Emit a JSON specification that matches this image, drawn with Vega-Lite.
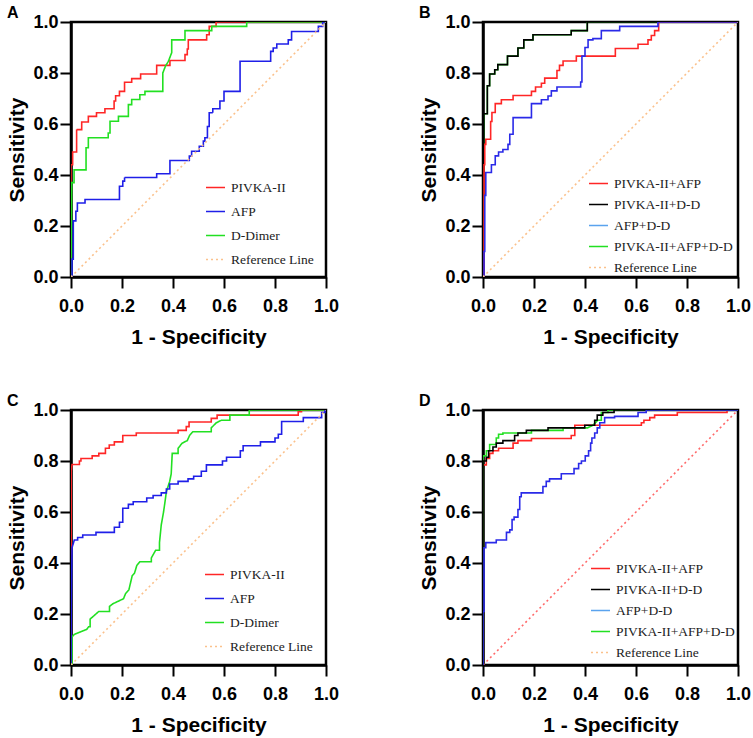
{
"$schema": "https://vega.github.io/schema/vega-lite/v6.json",
"background": "white",
"padding": {"left": 5, "top": 3, "right": 5, "bottom": 5},
"datasets": {
"A": [
{"s":"PIVKA-II","x":0,"y":0},{"s":"PIVKA-II","x":0,"y":0.44},{"s":"PIVKA-II","x":0.0065,"y":0.44},{"s":"PIVKA-II","x":0.0065,"y":0.49},{"s":"PIVKA-II","x":0.022,"y":0.49},{"s":"PIVKA-II","x":0.022,"y":0.578},{"s":"PIVKA-II","x":0.042,"y":0.578},{"s":"PIVKA-II","x":0.042,"y":0.608},{"s":"PIVKA-II","x":0.068,"y":0.608},{"s":"PIVKA-II","x":0.068,"y":0.63},{"s":"PIVKA-II","x":0.1,"y":0.63},{"s":"PIVKA-II","x":0.1,"y":0.644},{"s":"PIVKA-II","x":0.133,"y":0.644},{"s":"PIVKA-II","x":0.133,"y":0.66},{"s":"PIVKA-II","x":0.169,"y":0.66},{"s":"PIVKA-II","x":0.169,"y":0.69},{"s":"PIVKA-II","x":0.175,"y":0.69},{"s":"PIVKA-II","x":0.175,"y":0.711},{"s":"PIVKA-II","x":0.19,"y":0.711},{"s":"PIVKA-II","x":0.19,"y":0.728},{"s":"PIVKA-II","x":0.21,"y":0.728},{"s":"PIVKA-II","x":0.21,"y":0.764},{"s":"PIVKA-II","x":0.238,"y":0.764},{"s":"PIVKA-II","x":0.238,"y":0.778},{"s":"PIVKA-II","x":0.273,"y":0.778},{"s":"PIVKA-II","x":0.273,"y":0.796},{"s":"PIVKA-II","x":0.336,"y":0.796},{"s":"PIVKA-II","x":0.336,"y":0.83},{"s":"PIVKA-II","x":0.388,"y":0.83},{"s":"PIVKA-II","x":0.388,"y":0.849},{"s":"PIVKA-II","x":0.447,"y":0.849},{"s":"PIVKA-II","x":0.447,"y":0.872},{"s":"PIVKA-II","x":0.456,"y":0.872},{"s":"PIVKA-II","x":0.456,"y":0.894},{"s":"PIVKA-II","x":0.46,"y":0.894},{"s":"PIVKA-II","x":0.46,"y":0.93},{"s":"PIVKA-II","x":0.532,"y":0.93},{"s":"PIVKA-II","x":0.532,"y":0.95},{"s":"PIVKA-II","x":0.542,"y":0.95},{"s":"PIVKA-II","x":0.542,"y":0.983},{"s":"PIVKA-II","x":0.569,"y":0.983},{"s":"PIVKA-II","x":0.569,"y":1},{"s":"PIVKA-II","x":1,"y":1},
{"s":"D-Dimer","x":0,"y":0},{"s":"D-Dimer","x":0.003,"y":0.37},{"s":"D-Dimer","x":0.012,"y":0.37},{"s":"D-Dimer","x":0.012,"y":0.42},{"s":"D-Dimer","x":0.059,"y":0.42},{"s":"D-Dimer","x":0.059,"y":0.507},{"s":"D-Dimer","x":0.068,"y":0.507},{"s":"D-Dimer","x":0.068,"y":0.546},{"s":"D-Dimer","x":0.146,"y":0.546},{"s":"D-Dimer","x":0.146,"y":0.565},{"s":"D-Dimer","x":0.153,"y":0.565},{"s":"D-Dimer","x":0.153,"y":0.611},{"s":"D-Dimer","x":0.186,"y":0.611},{"s":"D-Dimer","x":0.186,"y":0.63},{"s":"D-Dimer","x":0.225,"y":0.63},{"s":"D-Dimer","x":0.225,"y":0.676},{"s":"D-Dimer","x":0.238,"y":0.676},{"s":"D-Dimer","x":0.238,"y":0.696},{"s":"D-Dimer","x":0.27,"y":0.696},{"s":"D-Dimer","x":0.27,"y":0.715},{"s":"D-Dimer","x":0.29,"y":0.715},{"s":"D-Dimer","x":0.29,"y":0.728},{"s":"D-Dimer","x":0.36,"y":0.728},{"s":"D-Dimer","x":0.36,"y":0.8},{"s":"D-Dimer","x":0.37,"y":0.826},{"s":"D-Dimer","x":0.382,"y":0.846},{"s":"D-Dimer","x":0.395,"y":0.88},{"s":"D-Dimer","x":0.395,"y":0.93},{"s":"D-Dimer","x":0.447,"y":0.93},{"s":"D-Dimer","x":0.447,"y":0.966},{"s":"D-Dimer","x":0.552,"y":0.966},{"s":"D-Dimer","x":0.552,"y":0.983},{"s":"D-Dimer","x":0.689,"y":0.983},{"s":"D-Dimer","x":0.689,"y":1},{"s":"D-Dimer","x":1,"y":1},
{"s":"AFP","x":0,"y":0},{"s":"AFP","x":0.004,"y":0},{"s":"AFP","x":0.004,"y":0.07},{"s":"AFP","x":0.009,"y":0.07},{"s":"AFP","x":0.009,"y":0.22},{"s":"AFP","x":0.019,"y":0.22},{"s":"AFP","x":0.019,"y":0.258},{"s":"AFP","x":0.025,"y":0.258},{"s":"AFP","x":0.025,"y":0.29},{"s":"AFP","x":0.055,"y":0.29},{"s":"AFP","x":0.055,"y":0.304},{"s":"AFP","x":0.19,"y":0.304},{"s":"AFP","x":0.19,"y":0.356},{"s":"AFP","x":0.203,"y":0.356},{"s":"AFP","x":0.203,"y":0.376},{"s":"AFP","x":0.21,"y":0.376},{"s":"AFP","x":0.21,"y":0.39},{"s":"AFP","x":0.336,"y":0.39},{"s":"AFP","x":0.336,"y":0.405},{"s":"AFP","x":0.388,"y":0.405},{"s":"AFP","x":0.388,"y":0.457},{"s":"AFP","x":0.464,"y":0.457},{"s":"AFP","x":0.464,"y":0.474},{"s":"AFP","x":0.473,"y":0.474},{"s":"AFP","x":0.473,"y":0.493},{"s":"AFP","x":0.503,"y":0.493},{"s":"AFP","x":0.503,"y":0.513},{"s":"AFP","x":0.519,"y":0.513},{"s":"AFP","x":0.519,"y":0.533},{"s":"AFP","x":0.525,"y":0.533},{"s":"AFP","x":0.525,"y":0.546},{"s":"AFP","x":0.535,"y":0.546},{"s":"AFP","x":0.535,"y":0.59},{"s":"AFP","x":0.542,"y":0.59},{"s":"AFP","x":0.542,"y":0.644},{"s":"AFP","x":0.556,"y":0.644},{"s":"AFP","x":0.556,"y":0.66},{"s":"AFP","x":0.584,"y":0.66},{"s":"AFP","x":0.584,"y":0.69},{"s":"AFP","x":0.6,"y":0.69},{"s":"AFP","x":0.6,"y":0.728},{"s":"AFP","x":0.663,"y":0.728},{"s":"AFP","x":0.663,"y":0.846},{"s":"AFP","x":0.783,"y":0.846},{"s":"AFP","x":0.783,"y":0.885},{"s":"AFP","x":0.793,"y":0.885},{"s":"AFP","x":0.793,"y":0.898},{"s":"AFP","x":0.807,"y":0.898},{"s":"AFP","x":0.807,"y":0.914},{"s":"AFP","x":0.852,"y":0.914},{"s":"AFP","x":0.852,"y":0.93},{"s":"AFP","x":0.865,"y":0.93},{"s":"AFP","x":0.865,"y":0.963},{"s":"AFP","x":0.97,"y":0.963},{"s":"AFP","x":0.97,"y":0.983},{"s":"AFP","x":0.987,"y":0.983},{"s":"AFP","x":0.987,"y":1},{"s":"AFP","x":1,"y":1},
{"s":"Reference Line","x":0,"y":0},{"s":"Reference Line","x":1,"y":1}
],
"B": [
{"s":"PIVKA-II+AFP+D-D","x":0,"y":0},{"s":"PIVKA-II+AFP+D-D","x":0,"y":0.32},{"s":"PIVKA-II+AFP+D-D","x":0.003,"y":0.32},{"s":"PIVKA-II+AFP+D-D","x":0.003,"y":0.64},{"s":"PIVKA-II+AFP+D-D","x":0.017,"y":0.64},{"s":"PIVKA-II+AFP+D-D","x":0.017,"y":0.75},{"s":"PIVKA-II+AFP+D-D","x":0.026,"y":0.75},{"s":"PIVKA-II+AFP+D-D","x":0.026,"y":0.796},{"s":"PIVKA-II+AFP+D-D","x":0.046,"y":0.796},{"s":"PIVKA-II+AFP+D-D","x":0.046,"y":0.813},{"s":"PIVKA-II+AFP+D-D","x":0.058,"y":0.813},{"s":"PIVKA-II+AFP+D-D","x":0.058,"y":0.833},{"s":"PIVKA-II+AFP+D-D","x":0.096,"y":0.833},{"s":"PIVKA-II+AFP+D-D","x":0.096,"y":0.866},{"s":"PIVKA-II+AFP+D-D","x":0.137,"y":0.866},{"s":"PIVKA-II+AFP+D-D","x":0.137,"y":0.898},{"s":"PIVKA-II+AFP+D-D","x":0.16,"y":0.898},{"s":"PIVKA-II+AFP+D-D","x":0.16,"y":0.93},{"s":"PIVKA-II+AFP+D-D","x":0.196,"y":0.93},{"s":"PIVKA-II+AFP+D-D","x":0.196,"y":0.95},{"s":"PIVKA-II+AFP+D-D","x":0.346,"y":0.95},{"s":"PIVKA-II+AFP+D-D","x":0.346,"y":0.966},{"s":"PIVKA-II+AFP+D-D","x":0.409,"y":0.966},{"s":"PIVKA-II+AFP+D-D","x":0.409,"y":1},{"s":"PIVKA-II+AFP+D-D","x":1,"y":1},
{"s":"PIVKA-II+D-D","x":0,"y":0},{"s":"PIVKA-II+D-D","x":0,"y":0.32},{"s":"PIVKA-II+D-D","x":0.003,"y":0.32},{"s":"PIVKA-II+D-D","x":0.003,"y":0.64},{"s":"PIVKA-II+D-D","x":0.017,"y":0.64},{"s":"PIVKA-II+D-D","x":0.017,"y":0.75},{"s":"PIVKA-II+D-D","x":0.026,"y":0.75},{"s":"PIVKA-II+D-D","x":0.026,"y":0.796},{"s":"PIVKA-II+D-D","x":0.046,"y":0.796},{"s":"PIVKA-II+D-D","x":0.046,"y":0.813},{"s":"PIVKA-II+D-D","x":0.058,"y":0.813},{"s":"PIVKA-II+D-D","x":0.058,"y":0.833},{"s":"PIVKA-II+D-D","x":0.096,"y":0.833},{"s":"PIVKA-II+D-D","x":0.096,"y":0.866},{"s":"PIVKA-II+D-D","x":0.137,"y":0.866},{"s":"PIVKA-II+D-D","x":0.137,"y":0.898},{"s":"PIVKA-II+D-D","x":0.16,"y":0.898},{"s":"PIVKA-II+D-D","x":0.16,"y":0.93},{"s":"PIVKA-II+D-D","x":0.196,"y":0.93},{"s":"PIVKA-II+D-D","x":0.196,"y":0.95},{"s":"PIVKA-II+D-D","x":0.346,"y":0.95},{"s":"PIVKA-II+D-D","x":0.346,"y":0.966},{"s":"PIVKA-II+D-D","x":0.409,"y":0.966},{"s":"PIVKA-II+D-D","x":0.409,"y":1},{"s":"PIVKA-II+D-D","x":1,"y":1},
{"s":"PIVKA-II+AFP","x":0,"y":0},{"s":"PIVKA-II+AFP","x":0.004,"y":0},{"s":"PIVKA-II+AFP","x":0.004,"y":0.44},{"s":"PIVKA-II+AFP","x":0.007,"y":0.44},{"s":"PIVKA-II+AFP","x":0.007,"y":0.52},{"s":"PIVKA-II+AFP","x":0.011,"y":0.52},{"s":"PIVKA-II+AFP","x":0.011,"y":0.54},{"s":"PIVKA-II+AFP","x":0.03,"y":0.54},{"s":"PIVKA-II+AFP","x":0.03,"y":0.61},{"s":"PIVKA-II+AFP","x":0.035,"y":0.61},{"s":"PIVKA-II+AFP","x":0.035,"y":0.645},{"s":"PIVKA-II+AFP","x":0.048,"y":0.645},{"s":"PIVKA-II+AFP","x":0.048,"y":0.68},{"s":"PIVKA-II+AFP","x":0.072,"y":0.68},{"s":"PIVKA-II+AFP","x":0.072,"y":0.695},{"s":"PIVKA-II+AFP","x":0.118,"y":0.695},{"s":"PIVKA-II+AFP","x":0.118,"y":0.712},{"s":"PIVKA-II+AFP","x":0.19,"y":0.712},{"s":"PIVKA-II+AFP","x":0.19,"y":0.728},{"s":"PIVKA-II+AFP","x":0.206,"y":0.728},{"s":"PIVKA-II+AFP","x":0.206,"y":0.745},{"s":"PIVKA-II+AFP","x":0.229,"y":0.745},{"s":"PIVKA-II+AFP","x":0.229,"y":0.76},{"s":"PIVKA-II+AFP","x":0.242,"y":0.76},{"s":"PIVKA-II+AFP","x":0.242,"y":0.78},{"s":"PIVKA-II+AFP","x":0.29,"y":0.78},{"s":"PIVKA-II+AFP","x":0.29,"y":0.81},{"s":"PIVKA-II+AFP","x":0.3,"y":0.81},{"s":"PIVKA-II+AFP","x":0.3,"y":0.83},{"s":"PIVKA-II+AFP","x":0.314,"y":0.83},{"s":"PIVKA-II+AFP","x":0.314,"y":0.847},{"s":"PIVKA-II+AFP","x":0.366,"y":0.847},{"s":"PIVKA-II+AFP","x":0.366,"y":0.866},{"s":"PIVKA-II+AFP","x":0.519,"y":0.866},{"s":"PIVKA-II+AFP","x":0.519,"y":0.896},{"s":"PIVKA-II+AFP","x":0.608,"y":0.896},{"s":"PIVKA-II+AFP","x":0.608,"y":0.913},{"s":"PIVKA-II+AFP","x":0.647,"y":0.913},{"s":"PIVKA-II+AFP","x":0.647,"y":0.93},{"s":"PIVKA-II+AFP","x":0.66,"y":0.93},{"s":"PIVKA-II+AFP","x":0.66,"y":0.947},{"s":"PIVKA-II+AFP","x":0.673,"y":0.947},{"s":"PIVKA-II+AFP","x":0.673,"y":0.966},{"s":"PIVKA-II+AFP","x":0.689,"y":0.966},{"s":"PIVKA-II+AFP","x":0.689,"y":1},{"s":"PIVKA-II+AFP","x":1,"y":1},
{"s":"AFP+D-D","x":0,"y":0},{"s":"AFP+D-D","x":0.004,"y":0},{"s":"AFP+D-D","x":0.004,"y":0.1},{"s":"AFP+D-D","x":0.007,"y":0.1},{"s":"AFP+D-D","x":0.007,"y":0.32},{"s":"AFP+D-D","x":0.011,"y":0.32},{"s":"AFP+D-D","x":0.011,"y":0.41},{"s":"AFP+D-D","x":0.033,"y":0.41},{"s":"AFP+D-D","x":0.033,"y":0.44},{"s":"AFP+D-D","x":0.048,"y":0.44},{"s":"AFP+D-D","x":0.048,"y":0.475},{"s":"AFP+D-D","x":0.061,"y":0.475},{"s":"AFP+D-D","x":0.061,"y":0.49},{"s":"AFP+D-D","x":0.078,"y":0.49},{"s":"AFP+D-D","x":0.078,"y":0.5},{"s":"AFP+D-D","x":0.098,"y":0.5},{"s":"AFP+D-D","x":0.098,"y":0.52},{"s":"AFP+D-D","x":0.105,"y":0.52},{"s":"AFP+D-D","x":0.105,"y":0.56},{"s":"AFP+D-D","x":0.118,"y":0.56},{"s":"AFP+D-D","x":0.118,"y":0.625},{"s":"AFP+D-D","x":0.19,"y":0.625},{"s":"AFP+D-D","x":0.19,"y":0.68},{"s":"AFP+D-D","x":0.229,"y":0.68},{"s":"AFP+D-D","x":0.229,"y":0.695},{"s":"AFP+D-D","x":0.255,"y":0.695},{"s":"AFP+D-D","x":0.255,"y":0.71},{"s":"AFP+D-D","x":0.268,"y":0.71},{"s":"AFP+D-D","x":0.268,"y":0.73},{"s":"AFP+D-D","x":0.29,"y":0.73},{"s":"AFP+D-D","x":0.29,"y":0.745},{"s":"AFP+D-D","x":0.383,"y":0.745},{"s":"AFP+D-D","x":0.383,"y":0.765},{"s":"AFP+D-D","x":0.388,"y":0.765},{"s":"AFP+D-D","x":0.388,"y":0.866},{"s":"AFP+D-D","x":0.4,"y":0.866},{"s":"AFP+D-D","x":0.4,"y":0.9},{"s":"AFP+D-D","x":0.412,"y":0.9},{"s":"AFP+D-D","x":0.412,"y":0.93},{"s":"AFP+D-D","x":0.431,"y":0.93},{"s":"AFP+D-D","x":0.431,"y":0.935},{"s":"AFP+D-D","x":0.464,"y":0.935},{"s":"AFP+D-D","x":0.464,"y":0.966},{"s":"AFP+D-D","x":0.536,"y":0.966},{"s":"AFP+D-D","x":0.536,"y":0.983},{"s":"AFP+D-D","x":0.686,"y":0.983},{"s":"AFP+D-D","x":0.686,"y":1},{"s":"AFP+D-D","x":1,"y":1},
{"s":"Reference Line","x":0,"y":0},{"s":"Reference Line","x":1,"y":1}
],
"C": [
{"s":"PIVKA-II","x":0,"y":0},{"s":"PIVKA-II","x":0.001,"y":0.76},{"s":"PIVKA-II","x":0.004,"y":0.786},{"s":"PIVKA-II","x":0.033,"y":0.786},{"s":"PIVKA-II","x":0.033,"y":0.8},{"s":"PIVKA-II","x":0.039,"y":0.8},{"s":"PIVKA-II","x":0.039,"y":0.81},{"s":"PIVKA-II","x":0.083,"y":0.81},{"s":"PIVKA-II","x":0.083,"y":0.82},{"s":"PIVKA-II","x":0.109,"y":0.82},{"s":"PIVKA-II","x":0.109,"y":0.83},{"s":"PIVKA-II","x":0.135,"y":0.83},{"s":"PIVKA-II","x":0.135,"y":0.85},{"s":"PIVKA-II","x":0.15,"y":0.85},{"s":"PIVKA-II","x":0.15,"y":0.863},{"s":"PIVKA-II","x":0.17,"y":0.863},{"s":"PIVKA-II","x":0.17,"y":0.875},{"s":"PIVKA-II","x":0.203,"y":0.875},{"s":"PIVKA-II","x":0.203,"y":0.9},{"s":"PIVKA-II","x":0.256,"y":0.9},{"s":"PIVKA-II","x":0.256,"y":0.91},{"s":"PIVKA-II","x":0.42,"y":0.91},{"s":"PIVKA-II","x":0.42,"y":0.92},{"s":"PIVKA-II","x":0.452,"y":0.92},{"s":"PIVKA-II","x":0.452,"y":0.935},{"s":"PIVKA-II","x":0.463,"y":0.935},{"s":"PIVKA-II","x":0.463,"y":0.953},{"s":"PIVKA-II","x":0.55,"y":0.953},{"s":"PIVKA-II","x":0.55,"y":0.967},{"s":"PIVKA-II","x":0.573,"y":0.967},{"s":"PIVKA-II","x":0.573,"y":0.98},{"s":"PIVKA-II","x":0.891,"y":0.98},{"s":"PIVKA-II","x":0.891,"y":0.993},{"s":"PIVKA-II","x":0.904,"y":0.993},{"s":"PIVKA-II","x":0.904,"y":1},{"s":"PIVKA-II","x":1,"y":1},
{"s":"D-Dimer","x":0,"y":0},{"s":"D-Dimer","x":0.004,"y":0},{"s":"D-Dimer","x":0.004,"y":0.11},{"s":"D-Dimer","x":0.013,"y":0.12},{"s":"D-Dimer","x":0.062,"y":0.14},{"s":"D-Dimer","x":0.069,"y":0.15},{"s":"D-Dimer","x":0.075,"y":0.15},{"s":"D-Dimer","x":0.075,"y":0.18},{"s":"D-Dimer","x":0.109,"y":0.21},{"s":"D-Dimer","x":0.151,"y":0.21},{"s":"D-Dimer","x":0.151,"y":0.23},{"s":"D-Dimer","x":0.164,"y":0.24},{"s":"D-Dimer","x":0.206,"y":0.26},{"s":"D-Dimer","x":0.214,"y":0.28},{"s":"D-Dimer","x":0.227,"y":0.295},{"s":"D-Dimer","x":0.24,"y":0.35},{"s":"D-Dimer","x":0.249,"y":0.36},{"s":"D-Dimer","x":0.258,"y":0.39},{"s":"D-Dimer","x":0.27,"y":0.405},{"s":"D-Dimer","x":0.315,"y":0.405},{"s":"D-Dimer","x":0.315,"y":0.42},{"s":"D-Dimer","x":0.332,"y":0.45},{"s":"D-Dimer","x":0.347,"y":0.45},{"s":"D-Dimer","x":0.347,"y":0.48},{"s":"D-Dimer","x":0.354,"y":0.55},{"s":"D-Dimer","x":0.363,"y":0.6},{"s":"D-Dimer","x":0.37,"y":0.65},{"s":"D-Dimer","x":0.374,"y":0.68},{"s":"D-Dimer","x":0.387,"y":0.72},{"s":"D-Dimer","x":0.393,"y":0.75},{"s":"D-Dimer","x":0.397,"y":0.83},{"s":"D-Dimer","x":0.42,"y":0.83},{"s":"D-Dimer","x":0.42,"y":0.85},{"s":"D-Dimer","x":0.436,"y":0.87},{"s":"D-Dimer","x":0.456,"y":0.88},{"s":"D-Dimer","x":0.465,"y":0.9},{"s":"D-Dimer","x":0.478,"y":0.915},{"s":"D-Dimer","x":0.55,"y":0.915},{"s":"D-Dimer","x":0.55,"y":0.93},{"s":"D-Dimer","x":0.57,"y":0.95},{"s":"D-Dimer","x":0.59,"y":0.96},{"s":"D-Dimer","x":0.623,"y":0.96},{"s":"D-Dimer","x":0.623,"y":0.98},{"s":"D-Dimer","x":0.699,"y":0.98},{"s":"D-Dimer","x":0.699,"y":1},{"s":"D-Dimer","x":1,"y":1},
{"s":"AFP","x":0,"y":0},{"s":"AFP","x":0.001,"y":0.23},{"s":"AFP","x":0.004,"y":0.46},{"s":"AFP","x":0.013,"y":0.49},{"s":"AFP","x":0.026,"y":0.49},{"s":"AFP","x":0.026,"y":0.5},{"s":"AFP","x":0.046,"y":0.5},{"s":"AFP","x":0.046,"y":0.51},{"s":"AFP","x":0.098,"y":0.51},{"s":"AFP","x":0.098,"y":0.52},{"s":"AFP","x":0.17,"y":0.52},{"s":"AFP","x":0.17,"y":0.54},{"s":"AFP","x":0.19,"y":0.54},{"s":"AFP","x":0.19,"y":0.56},{"s":"AFP","x":0.203,"y":0.56},{"s":"AFP","x":0.203,"y":0.615},{"s":"AFP","x":0.225,"y":0.615},{"s":"AFP","x":0.225,"y":0.63},{"s":"AFP","x":0.244,"y":0.63},{"s":"AFP","x":0.244,"y":0.64},{"s":"AFP","x":0.297,"y":0.64},{"s":"AFP","x":0.297,"y":0.655},{"s":"AFP","x":0.322,"y":0.655},{"s":"AFP","x":0.322,"y":0.665},{"s":"AFP","x":0.354,"y":0.665},{"s":"AFP","x":0.354,"y":0.675},{"s":"AFP","x":0.374,"y":0.675},{"s":"AFP","x":0.374,"y":0.69},{"s":"AFP","x":0.387,"y":0.69},{"s":"AFP","x":0.387,"y":0.71},{"s":"AFP","x":0.42,"y":0.71},{"s":"AFP","x":0.42,"y":0.72},{"s":"AFP","x":0.459,"y":0.72},{"s":"AFP","x":0.459,"y":0.73},{"s":"AFP","x":0.481,"y":0.73},{"s":"AFP","x":0.481,"y":0.74},{"s":"AFP","x":0.511,"y":0.74},{"s":"AFP","x":0.511,"y":0.76},{"s":"AFP","x":0.531,"y":0.76},{"s":"AFP","x":0.531,"y":0.785},{"s":"AFP","x":0.594,"y":0.785},{"s":"AFP","x":0.594,"y":0.8},{"s":"AFP","x":0.61,"y":0.8},{"s":"AFP","x":0.61,"y":0.815},{"s":"AFP","x":0.664,"y":0.815},{"s":"AFP","x":0.664,"y":0.84},{"s":"AFP","x":0.675,"y":0.84},{"s":"AFP","x":0.675,"y":0.86},{"s":"AFP","x":0.743,"y":0.86},{"s":"AFP","x":0.743,"y":0.875},{"s":"AFP","x":0.8,"y":0.875},{"s":"AFP","x":0.8,"y":0.89},{"s":"AFP","x":0.813,"y":0.89},{"s":"AFP","x":0.813,"y":0.905},{"s":"AFP","x":0.826,"y":0.905},{"s":"AFP","x":0.826,"y":0.955},{"s":"AFP","x":0.911,"y":0.955},{"s":"AFP","x":0.911,"y":0.97},{"s":"AFP","x":0.983,"y":0.97},{"s":"AFP","x":0.983,"y":0.99},{"s":"AFP","x":0.996,"y":0.99},{"s":"AFP","x":0.996,"y":1},{"s":"AFP","x":1,"y":1},
{"s":"Reference Line","x":0,"y":0},{"s":"Reference Line","x":1,"y":1}
],
"D": [
{"s":"Reference Line","x":0,"y":0},{"s":"Reference Line","x":1,"y":1},
{"s":"PIVKA-II+AFP","x":0,"y":0},{"s":"PIVKA-II+AFP","x":0,"y":0.785},{"s":"PIVKA-II+AFP","x":0.013,"y":0.785},{"s":"PIVKA-II+AFP","x":0.013,"y":0.81},{"s":"PIVKA-II+AFP","x":0.026,"y":0.81},{"s":"PIVKA-II+AFP","x":0.026,"y":0.83},{"s":"PIVKA-II+AFP","x":0.039,"y":0.83},{"s":"PIVKA-II+AFP","x":0.039,"y":0.84},{"s":"PIVKA-II+AFP","x":0.061,"y":0.84},{"s":"PIVKA-II+AFP","x":0.061,"y":0.85},{"s":"PIVKA-II+AFP","x":0.118,"y":0.85},{"s":"PIVKA-II+AFP","x":0.118,"y":0.87},{"s":"PIVKA-II+AFP","x":0.137,"y":0.87},{"s":"PIVKA-II+AFP","x":0.137,"y":0.88},{"s":"PIVKA-II+AFP","x":0.19,"y":0.88},{"s":"PIVKA-II+AFP","x":0.19,"y":0.888},{"s":"PIVKA-II+AFP","x":0.346,"y":0.888},{"s":"PIVKA-II+AFP","x":0.346,"y":0.9},{"s":"PIVKA-II+AFP","x":0.36,"y":0.9},{"s":"PIVKA-II+AFP","x":0.36,"y":0.94},{"s":"PIVKA-II+AFP","x":0.621,"y":0.94},{"s":"PIVKA-II+AFP","x":0.621,"y":0.95},{"s":"PIVKA-II+AFP","x":0.631,"y":0.95},{"s":"PIVKA-II+AFP","x":0.631,"y":0.96},{"s":"PIVKA-II+AFP","x":0.654,"y":0.96},{"s":"PIVKA-II+AFP","x":0.654,"y":0.97},{"s":"PIVKA-II+AFP","x":0.673,"y":0.97},{"s":"PIVKA-II+AFP","x":0.673,"y":0.98},{"s":"PIVKA-II+AFP","x":0.762,"y":0.98},{"s":"PIVKA-II+AFP","x":0.762,"y":0.99},{"s":"PIVKA-II+AFP","x":0.957,"y":0.99},{"s":"PIVKA-II+AFP","x":0.957,"y":1},{"s":"PIVKA-II+AFP","x":1,"y":1},
{"s":"PIVKA-II+AFP+D-D","x":0,"y":0},{"s":"PIVKA-II+AFP+D-D","x":0,"y":0.82},{"s":"PIVKA-II+AFP+D-D","x":0.013,"y":0.82},{"s":"PIVKA-II+AFP+D-D","x":0.013,"y":0.84},{"s":"PIVKA-II+AFP+D-D","x":0.026,"y":0.84},{"s":"PIVKA-II+AFP+D-D","x":0.026,"y":0.865},{"s":"PIVKA-II+AFP+D-D","x":0.052,"y":0.865},{"s":"PIVKA-II+AFP+D-D","x":0.052,"y":0.89},{"s":"PIVKA-II+AFP+D-D","x":0.061,"y":0.89},{"s":"PIVKA-II+AFP+D-D","x":0.061,"y":0.905},{"s":"PIVKA-II+AFP+D-D","x":0.078,"y":0.905},{"s":"PIVKA-II+AFP+D-D","x":0.078,"y":0.91},{"s":"PIVKA-II+AFP+D-D","x":0.19,"y":0.91},{"s":"PIVKA-II+AFP+D-D","x":0.19,"y":0.92},{"s":"PIVKA-II+AFP+D-D","x":0.314,"y":0.92},{"s":"PIVKA-II+AFP+D-D","x":0.314,"y":0.93},{"s":"PIVKA-II+AFP+D-D","x":0.41,"y":0.93},{"s":"PIVKA-II+AFP+D-D","x":0.431,"y":0.94},{"s":"PIVKA-II+AFP+D-D","x":0.45,"y":0.96},{"s":"PIVKA-II+AFP+D-D","x":0.464,"y":0.96},{"s":"PIVKA-II+AFP+D-D","x":0.464,"y":0.99},{"s":"PIVKA-II+AFP+D-D","x":0.49,"y":0.99},{"s":"PIVKA-II+AFP+D-D","x":0.49,"y":1},{"s":"PIVKA-II+AFP+D-D","x":1,"y":1},
{"s":"PIVKA-II+D-D","x":0,"y":0},{"s":"PIVKA-II+D-D","x":0,"y":0.8},{"s":"PIVKA-II+D-D","x":0.013,"y":0.8},{"s":"PIVKA-II+D-D","x":0.013,"y":0.815},{"s":"PIVKA-II+D-D","x":0.022,"y":0.815},{"s":"PIVKA-II+D-D","x":0.022,"y":0.84},{"s":"PIVKA-II+D-D","x":0.039,"y":0.84},{"s":"PIVKA-II+D-D","x":0.039,"y":0.855},{"s":"PIVKA-II+D-D","x":0.052,"y":0.855},{"s":"PIVKA-II+D-D","x":0.052,"y":0.87},{"s":"PIVKA-II+D-D","x":0.078,"y":0.87},{"s":"PIVKA-II+D-D","x":0.078,"y":0.88},{"s":"PIVKA-II+D-D","x":0.124,"y":0.88},{"s":"PIVKA-II+D-D","x":0.124,"y":0.9},{"s":"PIVKA-II+D-D","x":0.137,"y":0.9},{"s":"PIVKA-II+D-D","x":0.137,"y":0.91},{"s":"PIVKA-II+D-D","x":0.17,"y":0.91},{"s":"PIVKA-II+D-D","x":0.17,"y":0.92},{"s":"PIVKA-II+D-D","x":0.255,"y":0.92},{"s":"PIVKA-II+D-D","x":0.255,"y":0.93},{"s":"PIVKA-II+D-D","x":0.399,"y":0.93},{"s":"PIVKA-II+D-D","x":0.399,"y":0.94},{"s":"PIVKA-II+D-D","x":0.438,"y":0.94},{"s":"PIVKA-II+D-D","x":0.438,"y":0.96},{"s":"PIVKA-II+D-D","x":0.448,"y":0.96},{"s":"PIVKA-II+D-D","x":0.448,"y":0.98},{"s":"PIVKA-II+D-D","x":0.47,"y":0.98},{"s":"PIVKA-II+D-D","x":0.47,"y":0.99},{"s":"PIVKA-II+D-D","x":0.514,"y":0.99},{"s":"PIVKA-II+D-D","x":0.514,"y":1},{"s":"PIVKA-II+D-D","x":1,"y":1},
{"s":"AFP+D-D","x":0,"y":0},{"s":"AFP+D-D","x":0,"y":0.21},{"s":"AFP+D-D","x":0.004,"y":0.21},{"s":"AFP+D-D","x":0.004,"y":0.46},{"s":"AFP+D-D","x":0.011,"y":0.46},{"s":"AFP+D-D","x":0.011,"y":0.48},{"s":"AFP+D-D","x":0.052,"y":0.48},{"s":"AFP+D-D","x":0.052,"y":0.49},{"s":"AFP+D-D","x":0.092,"y":0.49},{"s":"AFP+D-D","x":0.092,"y":0.52},{"s":"AFP+D-D","x":0.105,"y":0.52},{"s":"AFP+D-D","x":0.105,"y":0.53},{"s":"AFP+D-D","x":0.114,"y":0.53},{"s":"AFP+D-D","x":0.114,"y":0.57},{"s":"AFP+D-D","x":0.122,"y":0.57},{"s":"AFP+D-D","x":0.122,"y":0.58},{"s":"AFP+D-D","x":0.137,"y":0.58},{"s":"AFP+D-D","x":0.137,"y":0.61},{"s":"AFP+D-D","x":0.144,"y":0.61},{"s":"AFP+D-D","x":0.144,"y":0.66},{"s":"AFP+D-D","x":0.15,"y":0.66},{"s":"AFP+D-D","x":0.15,"y":0.675},{"s":"AFP+D-D","x":0.235,"y":0.675},{"s":"AFP+D-D","x":0.235,"y":0.7},{"s":"AFP+D-D","x":0.248,"y":0.7},{"s":"AFP+D-D","x":0.248,"y":0.72},{"s":"AFP+D-D","x":0.261,"y":0.72},{"s":"AFP+D-D","x":0.261,"y":0.73},{"s":"AFP+D-D","x":0.307,"y":0.73},{"s":"AFP+D-D","x":0.307,"y":0.75},{"s":"AFP+D-D","x":0.357,"y":0.75},{"s":"AFP+D-D","x":0.357,"y":0.77},{"s":"AFP+D-D","x":0.375,"y":0.77},{"s":"AFP+D-D","x":0.375,"y":0.79},{"s":"AFP+D-D","x":0.386,"y":0.79},{"s":"AFP+D-D","x":0.386,"y":0.8},{"s":"AFP+D-D","x":0.401,"y":0.8},{"s":"AFP+D-D","x":0.401,"y":0.82},{"s":"AFP+D-D","x":0.414,"y":0.82},{"s":"AFP+D-D","x":0.414,"y":0.84},{"s":"AFP+D-D","x":0.422,"y":0.84},{"s":"AFP+D-D","x":0.422,"y":0.87},{"s":"AFP+D-D","x":0.427,"y":0.87},{"s":"AFP+D-D","x":0.427,"y":0.89},{"s":"AFP+D-D","x":0.438,"y":0.89},{"s":"AFP+D-D","x":0.438,"y":0.91},{"s":"AFP+D-D","x":0.448,"y":0.91},{"s":"AFP+D-D","x":0.448,"y":0.93},{"s":"AFP+D-D","x":0.458,"y":0.93},{"s":"AFP+D-D","x":0.458,"y":0.95},{"s":"AFP+D-D","x":0.477,"y":0.95},{"s":"AFP+D-D","x":0.477,"y":0.97},{"s":"AFP+D-D","x":0.516,"y":0.97},{"s":"AFP+D-D","x":0.516,"y":0.975},{"s":"AFP+D-D","x":0.608,"y":0.975},{"s":"AFP+D-D","x":0.608,"y":0.99},{"s":"AFP+D-D","x":0.64,"y":0.99},{"s":"AFP+D-D","x":0.64,"y":1},{"s":"AFP+D-D","x":1,"y":1}
]
},
"columns": 2,
"spacing": {"column": 77, "row": 42},
"resolve": {"scale": {"color": "independent", "strokeDash": "independent"}, "legend": {"color": "independent", "strokeDash": "independent"}},
"concat": [
{
"title": {"text": "A"},
"width": 255, "height": 255,
"data": {"name": "A"},
"mark": {"type": "line", "strokeWidth": 1.6, "clip": true},
"encoding": {
"x": {"field": "x", "type": "quantitative", "scale": {"domain": [0, 1], "nice": false, "zero": false}, "axis": {"title": "1 - Specificity"}},
"y": {"field": "y", "type": "quantitative", "scale": {"domain": [0, 1], "nice": false}, "axis": {"title": "Sensitivity"}},
"color": {"field": "s", "type": "nominal", "scale": {"domain": ["PIVKA-II", "AFP", "D-Dimer", "Reference Line"], "range": ["#ff2626", "#1f1fe8", "#22e022", "#fbc18c"]}, "legend": {"title": null, "legendX": 134, "legendY": 155, "rowPadding": 7}},
"strokeDash": {"field": "s", "type": "nominal", "scale": {"domain": ["PIVKA-II", "AFP", "D-Dimer", "Reference Line"], "range": [[1, 0], [1, 0], [1, 0], [2, 3]]}, "legend": {"title": null, "legendX": 134, "legendY": 155, "rowPadding": 7}},
"order": {"value": null}
}
},
{
"title": {"text": "B"},
"width": 255, "height": 255,
"data": {"name": "B"},
"mark": {"type": "line", "strokeWidth": 1.6, "clip": true},
"encoding": {
"x": {"field": "x", "type": "quantitative", "scale": {"domain": [0, 1], "nice": false, "zero": false}, "axis": {"title": "1 - Specificity"}},
"y": {"field": "y", "type": "quantitative", "scale": {"domain": [0, 1], "nice": false}, "axis": {"title": "Sensitivity"}},
"color": {"field": "s", "type": "nominal", "scale": {"domain": ["PIVKA-II+AFP", "PIVKA-II+D-D", "AFP+D-D", "PIVKA-II+AFP+D-D", "Reference Line"], "range": ["#ff2626", "#000000", "#5aa3ee", "#22e022", "#fbc18c"]}, "condition": {"test": "datum.s === 'AFP+D-D'", "value": "#2a2ae8"}, "legend": {"title": null, "legendX": 105, "legendY": 151, "rowPadding": 4}},
"strokeDash": {"field": "s", "type": "nominal", "scale": {"domain": ["PIVKA-II+AFP", "PIVKA-II+D-D", "AFP+D-D", "PIVKA-II+AFP+D-D", "Reference Line"], "range": [[1, 0], [1, 0], [1, 0], [1, 0], [2, 3]]}, "legend": {"title": null, "legendX": 105, "legendY": 151, "rowPadding": 4}},
"order": {"value": null}
}
},
{
"title": {"text": "C"},
"width": 255, "height": 255,
"data": {"name": "C"},
"mark": {"type": "line", "strokeWidth": 1.6, "clip": true},
"encoding": {
"x": {"field": "x", "type": "quantitative", "scale": {"domain": [0, 1], "nice": false, "zero": false}, "axis": {"title": "1 - Specificity"}},
"y": {"field": "y", "type": "quantitative", "scale": {"domain": [0, 1], "nice": false}, "axis": {"title": "Sensitivity"}},
"color": {"field": "s", "type": "nominal", "scale": {"domain": ["PIVKA-II", "AFP", "D-Dimer", "Reference Line"], "range": ["#ff2626", "#1f1fe8", "#22e022", "#fbc18c"]}, "legend": {"title": null, "legendX": 133, "legendY": 154, "rowPadding": 7}},
"strokeDash": {"field": "s", "type": "nominal", "scale": {"domain": ["PIVKA-II", "AFP", "D-Dimer", "Reference Line"], "range": [[1, 0], [1, 0], [1, 0], [2, 3]]}, "legend": {"title": null, "legendX": 133, "legendY": 154, "rowPadding": 7}},
"order": {"value": null}
}
},
{
"title": {"text": "D"},
"width": 255, "height": 255,
"data": {"name": "D"},
"mark": {"type": "line", "strokeWidth": 1.6, "clip": true},
"encoding": {
"x": {"field": "x", "type": "quantitative", "scale": {"domain": [0, 1], "nice": false, "zero": false}, "axis": {"title": "1 - Specificity"}},
"y": {"field": "y", "type": "quantitative", "scale": {"domain": [0, 1], "nice": false}, "axis": {"title": "Sensitivity"}},
"color": {"field": "s", "type": "nominal", "scale": {"domain": ["PIVKA-II+AFP", "PIVKA-II+D-D", "AFP+D-D", "PIVKA-II+AFP+D-D", "Reference Line"], "range": ["#ff2626", "#000000", "#5aa3ee", "#22e022", "#fbc18c"]}, "condition": [{"test": "datum.s === 'AFP+D-D'", "value": "#2a2ae8"}, {"test": "datum.s === 'Reference Line'", "value": "#ff6a6a"}], "legend": {"title": null, "legendX": 107, "legendY": 148, "rowPadding": 4}},
"strokeDash": {"field": "s", "type": "nominal", "scale": {"domain": ["PIVKA-II+AFP", "PIVKA-II+D-D", "AFP+D-D", "PIVKA-II+AFP+D-D", "Reference Line"], "range": [[1, 0], [1, 0], [1, 0], [1, 0], [2, 3]]}, "legend": {"title": null, "legendX": 107, "legendY": 148, "rowPadding": 4}},
"order": {"value": null}
}
}
],
"config": {
"font": "Liberation Sans",
"view": {"stroke": "black", "strokeWidth": 2.5},
"title": {"anchor": "start", "frame": "bounds", "font": "Liberation Sans", "fontSize": 16, "fontWeight": "bold", "color": "black", "offset": -8},
"axis": {"grid": false, "domainColor": "black", "domainWidth": 2.5, "tickColor": "black", "tickWidth": 2, "tickSize": 11, "labelFont": "Liberation Sans", "labelFontWeight": "bold", "labelFontSize": 18, "labelColor": "black", "titleFont": "Liberation Sans", "titleFontWeight": "bold", "titleFontSize": 21, "titleColor": "black", "values": [0, 0.2, 0.4, 0.6, 0.8, 1], "format": ".1f", "labelFlush": false, "labelOverlap": false},
"axisX": {"labelPadding": 9, "titlePadding": 11},
"axisY": {"labelPadding": 2, "titlePadding": 5},
"legend": {"orient": "none", "padding": 0, "labelFont": "Liberation Serif", "labelFontSize": 13.5, "labelColor": "#222222", "symbolType": "stroke", "symbolSize": 361, "symbolStrokeWidth": 1.6, "labelOffset": 5}
}
}
